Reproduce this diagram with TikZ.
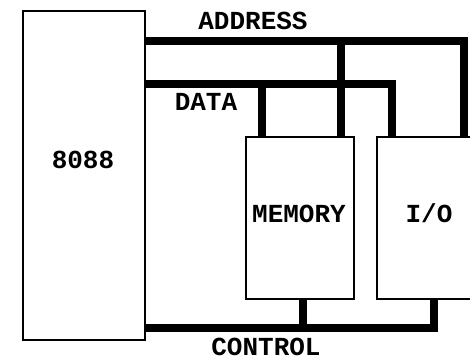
\documentclass[tikz,border=0pt]{standalone}
\usepackage{fontspec}
\setmonofont{Liberation Mono}
\begin{document}
\begin{tikzpicture}[x=1pt,y=-1pt,
  box/.style={draw,line width=2pt,inner sep=0pt,anchor=north west},
  bus/.style={line width=8.5pt,line join=miter},
  lbl/.style={font=\fontsize{26}{26}\selectfont\ttfamily\bfseries,inner sep=0pt,anchor=base}]
\useasboundingbox (0,0) rectangle (470,359);
\clip (0,0) rectangle (470,359);
\node[box,minimum width=122pt,minimum height=329pt] (cpu) at (22,10) {};
\node[box,minimum width=108pt,minimum height=162pt] (mem) at (245,136) {};
\node[box,minimum width=110pt,minimum height=162pt] (io) at (376,136) {};
% labels
\node[lbl] (lcpu) at (83,168) {8088};
\node[lbl] (lmem) at (299,222) {MEMORY};
\node[lbl] (lio) at (429,222) {I/O};
\node[lbl] (laddr) at (253,29) {ADDRESS};
\node[lbl] (ldata) at (206,110) {DATA};
\node[lbl] (lctrl) at (266,355) {CONTROL};
% address bus
\draw[bus] (cpu.north east |- 0,41) -- (464,41) -- (io.north -| 464,0);
\draw[bus] (341,41) -- (mem.north -| 341,0);
% data bus
\draw[bus] (cpu.north east |- 0,84) -- (392,84) -- (io.north -| 392,0);
\draw[bus] (262,84) -- (mem.north -| 262,0);
% control bus
\draw[bus] (cpu.north east |- 0,328) -- (434,328) -- (io.south -| 434,0);
\draw[bus] (303,328) -- (mem.south -| 303,0);
\end{tikzpicture}
\end{document}
